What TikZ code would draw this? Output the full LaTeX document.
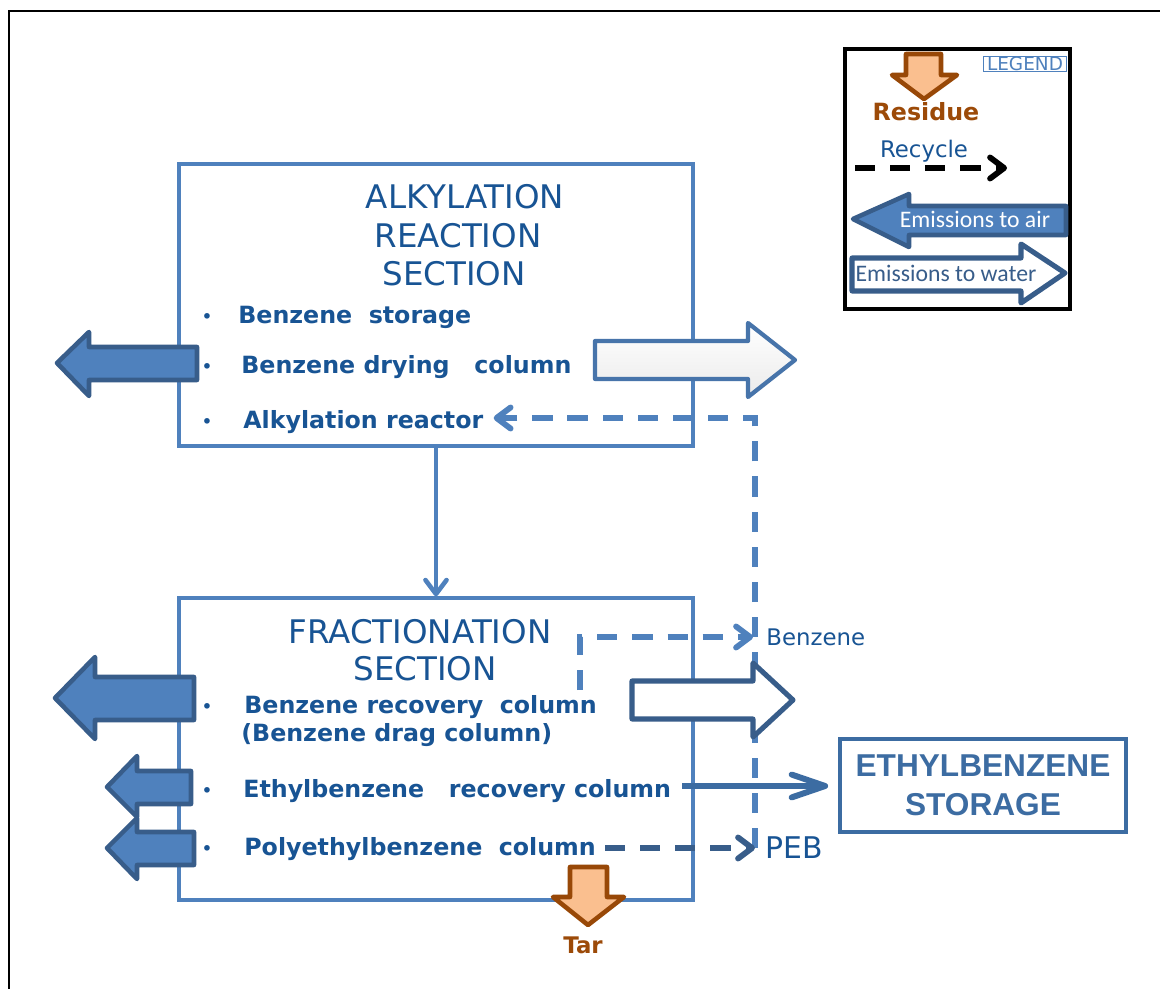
\documentclass[tikz,border=0pt]{standalone}
\usepackage{fontspec}
\setmainfont{DejaVu Sans}
\newfontfamily\carl{Carlito}
\newfontfamily\libs{Liberation Sans}
\usetikzlibrary{arrows.meta,calc}
\definecolor{boxblue}{RGB}{79,129,189}
\definecolor{txtblue}{RGB}{24,84,148}
\definecolor{darkline}{RGB}{56,93,138}
\definecolor{ebblue}{RGB}{60,108,162}
\definecolor{tarfill}{RGB}{250,191,143}
\definecolor{tarline}{RGB}{152,72,7}
\definecolor{browntxt}{RGB}{156,74,8}
\begin{document}
\begin{tikzpicture}[x=0.02cm,y=-0.02cm,
  sectbox/.style={draw=boxblue, line width=1.9pt, fill=none, inner sep=0pt},
  secttitle/.style={font=\fontsize{18.5}{22}\selectfont, text=txtblue, inner sep=0pt, anchor=base},
  itemtxt/.style={font=\bfseries\fontsize{13.5}{16}\selectfont, text=txtblue, inner sep=0pt, anchor=base west},
  bul/.style={font=\fontsize{11}{13}\selectfont, text=txtblue, inner sep=0pt, anchor=base},
  lbl/.style={text=txtblue, inner sep=0pt, anchor=west},
  airarrow/.style={fill=boxblue, draw=darkline, line width=2.6pt, line join=round},
  waterarrow/.style={fill=white, draw=darkline, line width=2.9pt, line join=round},
  residuearrow/.style={fill=tarfill, draw=tarline, line width=2.6pt, line join=round},
  recyc/.style={draw=boxblue, line width=3.3pt, dash pattern=on 11.5pt off 8.5pt,
    -{Straight Barb[length=8pt,width=12pt,round]}},
  flowline/.style={draw=boxblue, line width=2.6pt, -{Straight Barb[length=8pt,width=12pt,round]}},
  ebline/.style={draw=ebblue, line width=3.4pt, -{Straight Barb[length=19pt,width=13pt,round]}}
]
\useasboundingbox (0,0) rectangle (1160,989);
\fill[white] (0,0) rectangle (1160,989);
\draw[black, line width=1.4pt] (9,989) -- (9,11) -- (1160,11);

% ---------- section boxes ----------
\node[sectbox, minimum width=10.28cm, minimum height=5.64cm] (topbox) at (436,305) {};
\node[sectbox, minimum width=10.28cm, minimum height=6.04cm] (botbox) at (436,749) {};

\node[secttitle] (ta1) at (465,209) {ALKYLATION};
\node[secttitle] (ta2) at (458,248) {REACTION};
\node[secttitle] (ta3) at (454,286) {SECTION};

\node[secttitle] (tf1) at (420,643) {FRACTIONATION};
\node[secttitle] (tf2) at (425,681) {SECTION};

% ---------- items ----------
\node[bul] (b1) at (207,324) {•};
\node[itemtxt] (t1) at (238,324) {Benzene\ \ storage};
\node[bul] (b2) at (207,374) {•};
\node[itemtxt] (t2) at (241,374) {Benzene drying\ \ \ column};
\node[bul] (b3) at (207,429) {•};
\node[itemtxt] (t3) at (243,429) {Alkylation reactor};

\node[bul] (b4) at (207,713) {•};
\node[itemtxt] (t4) at (244,713) {Benzene recovery\ \ column};
\node[itemtxt] (t4b) at (241,741) {(Benzene drag column)};
\node[bul] (b6) at (207,797) {•};
\node[itemtxt] (t6) at (243,797) {Ethylbenzene\ \ \ recovery column};
\node[bul] (b7) at (207,855) {•};
\node[itemtxt] (t7) at (244,855) {Polyethylbenzene\ \ column};

% ---------- side labels ----------
\node[lbl, font=\fontsize{13}{15}\selectfont] (bzlbl) at (766,637) {Benzene};
\node[lbl, font=\fontsize{17}{20}\selectfont] (peblbl) at (765,848) {PEB};

\node[draw=ebblue, line width=2.2pt, minimum width=5.72cm, minimum height=1.86cm,
  align=center, text=ebblue, font=\libs\bfseries\fontsize{18}{22}\selectfont]
  (ebstore) at (983,785.5) {ETHYLBENZENE\\STORAGE};

% ---------- connectors ----------
\draw[flowline] (topbox.south) -- (botbox.north);

\coordinate (rc) at (755,418);
\draw[recyc] (peblbl.west -| rc) -- (rc) -- ($(rc -| t3.east)+(10,0)$);
\coordinate (bz0) at (580,690);
\draw[recyc, shorten >=7.4pt] (bz0) |- (bzlbl.west);
\coordinate (peb0) at (605,848);
\draw[recyc, draw=darkline, shorten >=5.7pt] (peb0) -- (peb0 -| peblbl.west);
\coordinate (eb0) at (682,786);
\draw[ebline, shorten >=5.7pt] (eb0) -- (eb0 -| ebstore.west);

% ---------- emission arrows (air) ----------
\draw[airarrow] (197,347) -- (89,347) -- (89,332) -- (57,363) -- (89,396) -- (89,380) -- (197,380) -- cycle;
\draw[airarrow] (194,677) -- (95,677) -- (95,657) -- (55,698) -- (95,739) -- (95,720) -- (194,720) -- cycle;
\draw[airarrow] (191,771) -- (137,771) -- (137,756) -- (107,787) -- (137,817) -- (137,804) -- (191,804) -- cycle;
\draw[airarrow] (194,832) -- (137,832) -- (137,818) -- (107,848) -- (137,879) -- (137,865) -- (194,865) -- cycle;

% ---------- emission arrows (water) ----------
\draw[waterarrow, draw=boxblue!90!black, line width=2.4pt, top color=white, bottom color=black!8]
  (595,341) -- (748,341) -- (748,323) -- (795,360) -- (748,397) -- (748,379) -- (595,379) -- cycle;
\draw[waterarrow] (632,681) -- (753,681) -- (753,663) -- (793,700) -- (753,737) -- (753,719) -- (632,719) -- cycle;

% ---------- residue ----------
\draw[residuearrow] (570,867) -- (607,867) -- (607,897) -- (624,897) -- (588,925) -- (553,897) -- (570,897) -- cycle;
\node[text=browntxt, font=\bfseries\fontsize{13}{15}\selectfont, inner sep=0pt, anchor=base] (tar) at (583,953) {Tar};

% ---------- legend ----------
\node[draw=black, line width=2.5pt, minimum width=4.5cm, minimum height=5.2cm] (legend) at (957.5,179) {};
\node[draw=boxblue, line width=0.5pt, inner xsep=2pt, inner ysep=0.5pt, text=boxblue,
  font=\fontsize{10.5}{12}\selectfont] (legtitle) at (1025,64) {LEGEND};
\draw[residuearrow] (906,54) -- (941,54) -- (941,75) -- (957,75) -- (924,99) -- (892,75) -- (906,75) -- cycle;
\node[text=browntxt, font=\bfseries\fontsize{13.5}{15}\selectfont, inner sep=0pt, anchor=base] (legres) at (926,121) {Residue};
\node[text=txtblue, font=\fontsize{13}{15}\selectfont, inner sep=0pt, anchor=base] (legrec) at (924,158) {Recycle};
\coordinate (lr0) at (855,168);
\coordinate (lr1) at (1007,168);
\draw[recyc, draw=black] (lr0) -- (lr1);
\draw[airarrow] (1066,206) -- (909,206) -- (909,194) -- (853,219) -- (909,247) -- (909,235) -- (1066,235) -- cycle;
\node[text=white, font=\carl\fontsize{13.5}{15}\selectfont, inner sep=0pt] (legair) at (975,219) {Emissions to air};
\draw[waterarrow] (852,258) -- (1021,258) -- (1021,244) -- (1065,273) -- (1021,303) -- (1021,291) -- (852,291) -- cycle;
\node[text=darkline, font=\carl\fontsize{13.5}{15}\selectfont, inner sep=0pt] (legwat) at (946,273) {Emissions to water};
\end{tikzpicture}
\end{document}
